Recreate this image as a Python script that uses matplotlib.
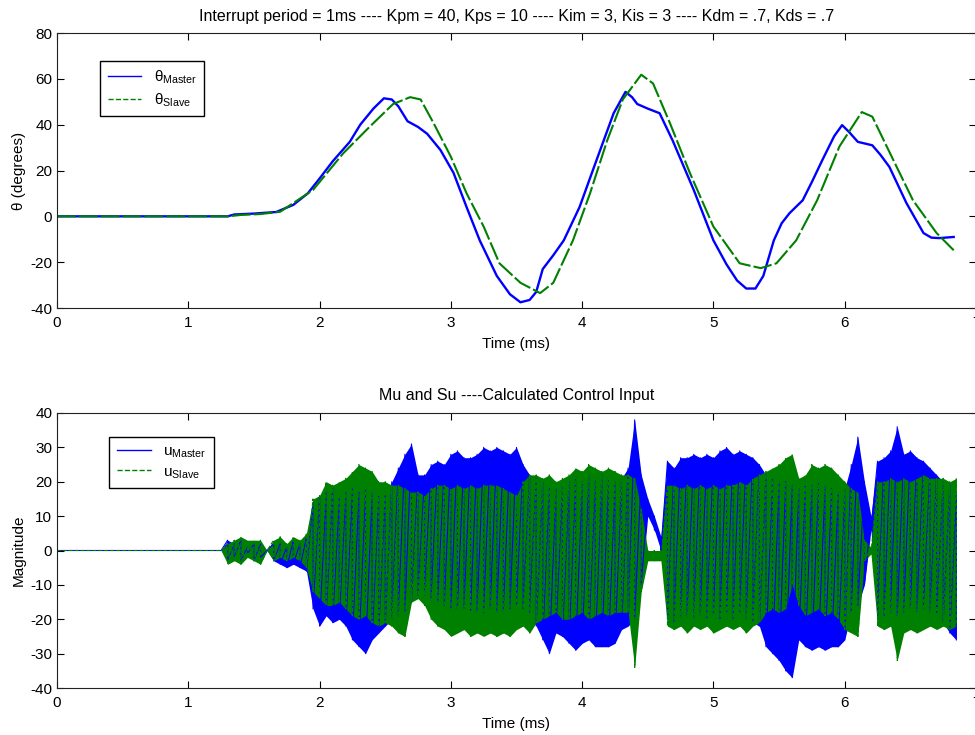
import matplotlib
matplotlib.use("Agg")
import matplotlib.pyplot as plt
import numpy as np
from matplotlib.lines import Line2D

plt.rcParams["font.family"] = ["Liberation Sans", "DejaVu Sans"]
plt.rcParams["mathtext.fontset"] = "custom"
plt.rcParams["mathtext.rm"] = "Liberation Sans"
plt.rcParams["axes.unicode_minus"] = False

BLUE = "#0000ff"
GREEN = "#008000"

# top plot: joint angles (degrees) vs time (ms)
master_t = [0, 1.30, 1.35, 1.5, 1.67, 1.8, 1.91, 2.0, 2.1, 2.23, 2.31, 2.41, 2.49, 2.55,
            2.60, 2.67, 2.75, 2.82, 2.92, 3.02, 3.12, 3.22, 3.35, 3.45, 3.53, 3.60, 3.65,
            3.70, 3.78, 3.86, 3.98, 4.11, 4.24, 4.33, 4.38, 4.42, 4.50, 4.59, 4.69, 4.85,
            5.0, 5.10, 5.18, 5.25, 5.32, 5.38, 5.46, 5.52, 5.58, 5.68, 5.75, 5.83, 5.92,
            5.98, 6.03, 6.10, 6.21, 6.27, 6.34, 6.47, 6.60, 6.66, 6.72, 6.83]
master_deg = [0, 0, 0.8, 1.2, 1.9, 5, 10, 16.5, 24, 32.5, 40, 47, 51.5, 51,
              48, 41.5, 39, 36, 29, 19, 4, -10.5, -26, -34, -37.5, -36.5, -33,
              -23, -17, -10.5, 4, 24.6, 45, 54.3, 52, 49, 47, 45, 33, 11.5,
              -10.5, -21, -28, -31.5, -31.5, -26, -10.5, -3, 1.4, 7, 15, 24.6, 35,
              39.8, 37, 32.5, 31, 27, 21.6, 5.8, -7.3, -9.3, -9.5, -9]

slave_t = [0, 1.30, 1.40, 1.55, 1.7, 1.8, 1.95, 2.18, 2.38, 2.56, 2.69, 2.77, 2.87, 3.0,
           3.12, 3.25, 3.37, 3.53, 3.68, 3.78, 3.93, 4.06, 4.19, 4.31, 4.45, 4.54, 4.67,
           4.82, 5.0, 5.2, 5.36, 5.48, 5.63, 5.79, 5.96, 6.13, 6.21, 6.37, 6.52, 6.70, 6.83]
slave_deg = [0, 0, 0.6, 1, 2, 5.8, 11.5, 27.5, 39, 49, 52, 51, 40.5, 26,
             10, -4.5, -20.5, -29, -33.5, -29, -10.5, 10, 33, 51, 61.8, 58, 40.5,
             19, -4.5, -20.5, -22.6, -20.5, -10.5, 7, 30.5, 45.5, 43.5, 24.6, 7, -7.3, -14.8]

# bottom plot: control input envelopes, sampled every 0.05 ms from 1.25 to 6.85 ms
u_time = np.concatenate([[0.0], np.round(np.arange(1.25, 6.851, 0.05), 2)])
um_hi = [0,
         0, 3, 2, 3, 1, 2, 2, 0, 2, 2,
         1, 3, 2, 4, 14, 16, 17, 18, 16, 17,
         18, 17, 18, 17, 16, 17, 20, 24, 28, 31,
         22, 22, 25, 26, 25, 28, 29, 27, 27, 28,
         30, 29, 30, 29, 28, 30, 25, 22, 21, 20,
         19, 18, 19, 20, 21, 20, 22, 21, 22, 21,
         20, 21, 24, 38, 22, 15, 10, 4, 26, 24,
         27, 27, 28, 27, 28, 27, 29, 30, 28, 29,
         28, 27, 25, 22, 21, 20, 20, 19, 18, 20,
         19, 20, 19, 18, 17, 18, 25, 33, 20, 10,
         26, 27, 29, 36, 28, 29, 27, 26, 24, 22,
         20, 19, 16]
um_lo = [0,
         0, -3, -2, -3, -1, -3, -2, 0, -3, -4,
         -5, -4, -5, -6, -17, -22, -19, -21, -20, -22,
         -26, -28, -30, -26, -24, -22, -20, -19, -18, -15,
         -13, -13, -14, -15, -16, -17, -17, -17, -18, -18,
         -18, -17, -18, -18, -17, -16, -17, -18, -22, -26,
         -30, -24, -25, -27, -29, -27, -26, -28, -28, -28,
         -27, -23, -22, -20, -10, 10, 6, 0, -20, -21,
         -20, -19, -20, -19, -20, -19, -20, -19, -20, -19,
         -20, -21, -22, -28, -30, -32, -35, -37, -26, -28,
         -29, -28, -29, -28, -28, -26, -18, -16, -10, 6,
         -20, -19, -18, -19, -18, -17, -18, -17, -18, -19,
         -21, -24, -26]
us_hi = [0,
         0, 2, 3, 4, 3, 3, 3, 0, 3, 4,
         2, 4, 3, 5, 15, 16, 20, 19, 20, 21,
         23, 25, 24, 23, 20, 20, 19, 19, 18, 17,
         17, 16, 18, 19, 19, 18, 19, 18, 19, 18,
         19, 19, 19, 18, 17, 16, 20, 22, 22, 21,
         22, 20, 21, 22, 24, 23, 25, 24, 23, 24,
         23, 22, 22, 21, 12, 0, 0, 0, 19, 19,
         18, 19, 18, 19, 18, 19, 18, 19, 19, 20,
         19, 21, 22, 23, 24, 25, 27, 28, 21, 22,
         25, 24, 25, 24, 22, 20, 18, 17, 3, 1,
         20, 20, 21, 20, 21, 20, 21, 22, 21, 21,
         21, 20, 21]
us_lo = [0,
         0, -4, -3, -4, -2, -3, -4, 0, -3, -2,
         -3, -2, -3, -5, -12, -14, -16, -16, -15, -17,
         -19, -20, -19, -21, -22, -21, -22, -24, -25, -15,
         -14, -16, -20, -22, -23, -25, -24, -23, -25, -24,
         -25, -24, -25, -24, -25, -23, -22, -24, -21, -20,
         -19, -18, -20, -20, -19, -18, -20, -19, -18, -19,
         -18, -18, -18, -34, -12, -3, -3, -3, -22, -23,
         -22, -24, -22, -23, -22, -24, -23, -22, -23, -22,
         -24, -22, -21, -18, -17, -18, -17, -10, -16, -19,
         -18, -17, -19, -18, -20, -23, -24, -25, -3, -1,
         -22, -23, -22, -32, -24, -23, -24, -23, -22, -23,
         -22, -23, -22]


def zigzag(t, hi, lo):
    x = np.repeat(t, 2)
    y = np.column_stack([hi, lo]).ravel()
    return x, y


def style_axes(ax):
    ax.set_xlim(0, 7)
    ax.tick_params(direction="in", top=True, right=True, length=5, labelsize=11)
    ax.tick_params(axis="x", pad=6)
    for s in ax.spines.values():
        s.set_color("#222222")


fig = plt.figure(figsize=(9.75, 7.35), dpi=100)
ax1 = fig.add_axes([57 / 975, 1 - 308 / 735, 919 / 975, 275 / 735])
ax2 = fig.add_axes([57 / 975, 1 - 688 / 735, 919 / 975, 275 / 735])

ax1.plot(master_t, master_deg, color=BLUE, lw=1.7)
ax1.plot(slave_t, slave_deg, color=GREEN, lw=1.5, dashes=(9, 1.5))
style_axes(ax1)
ax1.set_ylim(-40, 80)
ax1.set_yticks(np.arange(-40, 81, 20))
ax1.set_xlabel("Time (ms)", fontsize=11, labelpad=5)
ax1.set_ylabel("θ (degrees)", fontsize=11, labelpad=3)
ax1.set_title("Interrupt period = 1ms ---- Kpm = 40, Kps = 10 ---- Kim = 3, Kis = 3 ---- "
              "Kdm = .7, Kds = .7", fontsize=11.5, pad=9)
h1 = [Line2D([], [], color=BLUE, lw=1), Line2D([], [], color=GREEN, lw=1, ls="--")]
ax1.legend(h1, ["θ$_{\\mathrm{Master}}$", "θ$_{\\mathrm{Slave}}$"], loc="upper left",
           bbox_to_anchor=(0.047, 0.898), borderaxespad=0, fancybox=False,
           edgecolor="black", framealpha=1, fontsize=11, handlelength=2.2,
           borderpad=0.5, labelspacing=0.3)

ax2.fill_between(u_time, um_lo, um_hi, color=BLUE, lw=0)
x, y = zigzag(u_time, um_hi, um_lo)
ax2.plot(x, y, color=BLUE, lw=0.8)
ax2.fill_between(u_time, us_lo, us_hi, color=GREEN, lw=0)
x, y = zigzag(u_time, us_hi, us_lo)
ax2.plot(x, y, color=GREEN, lw=0.8, ls="--")
style_axes(ax2)
ax2.set_ylim(-40, 40)
ax2.set_yticks(np.arange(-40, 41, 10))
ax2.set_xlabel("Time (ms)", fontsize=11, labelpad=5)
ax2.set_ylabel("Magnitude", fontsize=11, labelpad=3)
ax2.set_title("Mu and Su ----Calculated Control Input", fontsize=11.5, pad=9)
h2 = [Line2D([], [], color=BLUE, lw=1), Line2D([], [], color=GREEN, lw=1, ls="--")]
ax2.legend(h2, ["u$_{\\mathrm{Master}}$", "u$_{\\mathrm{Slave}}$"], loc="upper left",
           bbox_to_anchor=(0.057, 0.913), borderaxespad=0, fancybox=False,
           edgecolor="black", framealpha=1, fontsize=11, handlelength=2.2,
           borderpad=0.5, labelspacing=0.3)

fig.savefig("out.png", dpi=100)
